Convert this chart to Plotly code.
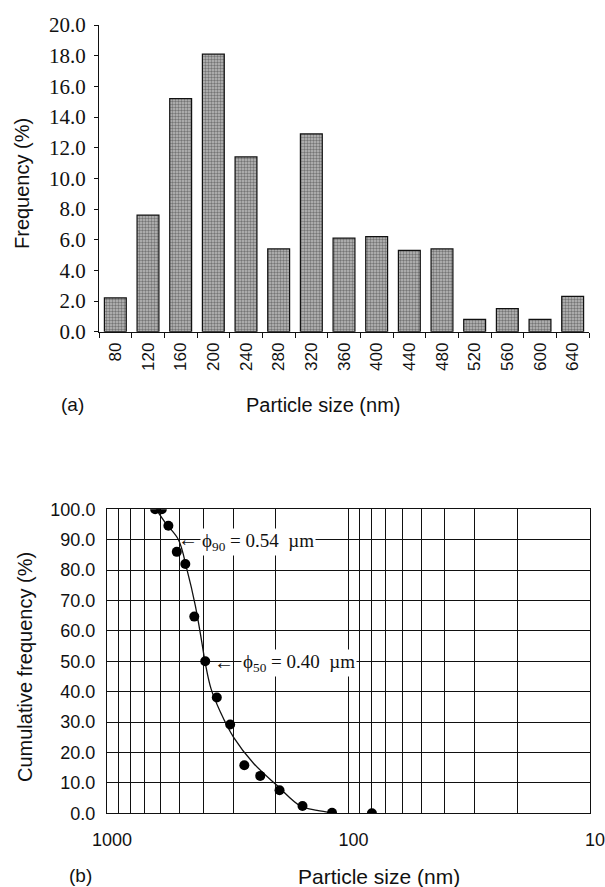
import plotly.graph_objects as go

# ---------------- data ----------------
size_bins = ["80", "120", "160", "200", "240", "280", "320", "360",
             "400", "440", "480", "520", "560", "600", "640"]
frequency = [2.2, 7.6, 15.2, 18.1, 11.4, 5.4, 12.9, 6.1,
             6.2, 5.3, 5.4, 0.8, 1.5, 0.8, 2.3]

cum_size = [632, 593, 557, 514, 474, 435, 392, 351, 309, 270, 232, 193, 155, 117, 80]
cum_freq = [100.0, 100.0, 94.6, 86.0, 82.0, 64.7, 50.0, 38.1, 29.2, 15.8, 12.3, 7.6, 2.4, 0.2, 0.0]

curve_size = [626, 571, 506, 467, 431, 405, 392, 371, 340, 299, 247, 198, 158, 135, 117]
curve_freq = [100.0, 95.4, 90.0, 80.3, 68.4, 56.3, 49.5, 41.0, 33.5, 25.0, 16.4, 9.2, 2.4, 0.95, 0.2]

freq_ticks = [0, 2, 4, 6, 8, 10, 12, 14, 16, 18, 20]
cum_ticks = [0, 10, 20, 30, 40, 50, 60, 70, 80, 90, 100]
log_major = [1000, 100, 10]
log_minor = [900, 800, 700, 600, 500, 400, 300, 200, 90, 80, 70, 60, 50, 40, 30, 20]

W, H = 605, 887
def fx(px):
    return px / W
def fy(py):
    return 1 - py / H

SANS = "Liberation Sans, Arial, sans-serif"
SERIF = "Liberation Serif, Times New Roman, serif"

fig = go.Figure()

# ---- (a) histogram ----
fig.add_trace(go.Bar(
    x=size_bins, y=frequency, xaxis="x", yaxis="y",
    marker=dict(color="#bdbdbd",
                line=dict(color="#111", width=1.2),
                pattern=dict(shape=".", fgcolor="#2e2e2e", size=3, solidity=0.5)),
    showlegend=False,
))

# ---- (b) cumulative ----
fig.add_trace(go.Scatter(
    x=curve_size, y=curve_freq, xaxis="x2", yaxis="y2", mode="lines",
    line=dict(color="#111", width=1.3, shape="spline", smoothing=1.0),
    showlegend=False, hoverinfo="skip",
))
fig.add_trace(go.Scatter(
    x=cum_size, y=cum_freq, xaxis="x2", yaxis="y2", mode="markers",
    marker=dict(color="#000", size=10),
    showlegend=False,
))

fig.update_layout(
    width=W, height=H,
    margin=dict(l=0, r=0, t=0, b=0),
    paper_bgcolor="white", plot_bgcolor="white",
    bargap=0.33,
    xaxis=dict(
        domain=[fx(99), fx(589)], anchor="y", automargin=False,
        type="category", range=[-0.5, 14.5],
        tickson="boundaries", ticks="outside", ticklen=5, tickcolor="#111",
        showline=True, linecolor="#111", linewidth=1.2,
        showgrid=False, zeroline=False,
        tickangle=-90,
        tickfont=dict(family=SANS, size=17, color="#111"),
        ticklabelstandoff=3,
    ),
    yaxis=dict(
        domain=[fy(331.7), fy(25)], anchor="x", automargin=False,
        range=[0, 20], tickvals=freq_ticks,
        ticktext=[f"{v:.1f}" for v in freq_ticks],
        ticks="outside", ticklen=4, tickcolor="#111",
        showline=True, linecolor="#111", linewidth=1.2,
        showgrid=False, zeroline=False,
        tickfont=dict(family=SERIF, size=21, color="#111"),
        ticklabelstandoff=4,
    ),
    xaxis2=dict(
        domain=[fx(107), fx(590)], anchor="y2", automargin=False,
        type="log", range=[3, 1],
        tickvals=log_major, ticktext=[str(v) for v in log_major],
        ticks="", showline=True, mirror=True, linecolor="#111", linewidth=1,
        showgrid=True, gridcolor="#111", gridwidth=1,
        minor=dict(tickmode="array", tickvals=log_minor, showgrid=True,
                   gridcolor="#111", gridwidth=1, ticks=""),
        zeroline=False,
        tickfont=dict(family=SANS, size=18, color="#111"),
        ticklabelstandoff=10, ticklabelshift=-5,
        ticklabeloverflow="allow",
    ),
    yaxis2=dict(
        domain=[fy(813.3), fy(509.3)], anchor="x2", automargin=False,
        range=[0, 100], tickvals=cum_ticks,
        ticktext=[f"{v:.1f}" for v in cum_ticks],
        ticks="", showline=True, mirror=True, linecolor="#111", linewidth=1,
        showgrid=True, gridcolor="#111", gridwidth=1, zeroline=False,
        tickfont=dict(family=SANS, size=18, color="#111"),
        ticklabelstandoff=7,
    ),
)

ann = []
def txt(x, y, s, size, family=SANS, angle=0, xanchor="center", bg=None):
    d = dict(x=fx(x), y=fy(y), xref="paper", yref="paper", text=s, showarrow=False,
             font=dict(family=family, size=size, color="#111"),
             xanchor=xanchor, yanchor="middle", textangle=angle)
    if bg:
        d.update(bgcolor=bg, borderpad=1)
    ann.append(d)

txt(22, 184, "Frequency (%)", 20, angle=-90)
txt(323, 405, "Particle size (nm)", 20)
txt(72, 405, "(a)", 19)

txt(25, 667, "Cumulative frequency (%)", 20, angle=-90)
txt(379, 876, "Particle size (nm)", 21)
txt(80, 875, "(b)", 19)

# phi annotations
txt(176, 539, "←", 20, family=SERIF, xanchor="left")
txt(200, 542, "ϕ<sub>90</sub> = 0.54  µm", 19, family=SERIF, xanchor="left", bg="white")
txt(212, 662, "←", 20, family=SERIF, xanchor="left")
txt(241, 663, "ϕ<sub>50</sub> = 0.40  µm", 19, family=SERIF, xanchor="left", bg="white")

fig.update_layout(annotations=ann)
fig.write_html("out.html", config={"displayModeBar": False},
               post_script="document.body.style.margin='0';document.body.style.overflow='hidden';")
